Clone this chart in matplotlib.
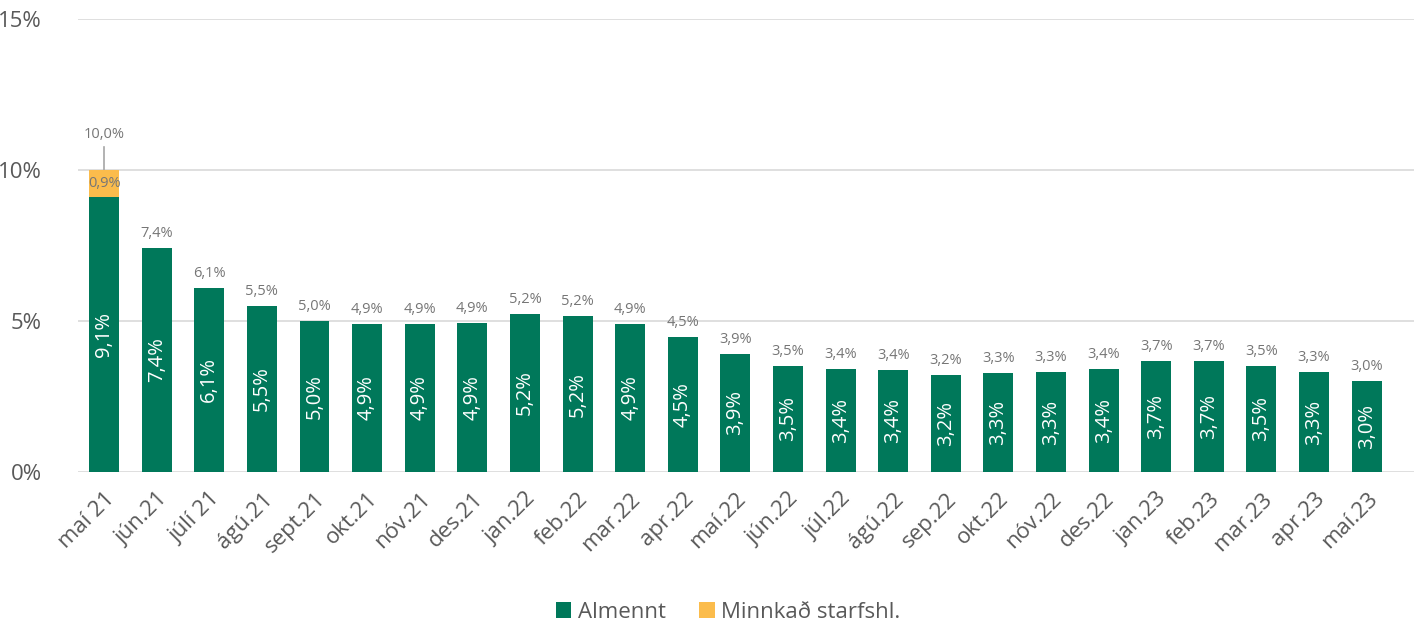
import numpy as np
import matplotlib.pyplot as plt

plt.rcParams['font.family'] = ['Open Sans', 'DejaVu Sans']

months = ["maí 21", "jún.21", "júlí 21", "ágú.21", "sept.21", "okt.21", "nóv.21",
          "des.21", "jan.22", "feb.22", "mar.22", "apr.22", "maí.22", "jún.22",
          "júl.22", "ágú.22", "sep.22", "okt.22", "nóv.22", "des.22", "jan.23",
          "feb.23", "mar.23", "apr.23", "maí.23"]
almennt = [9.1, 7.42, 6.09, 5.50, 5.0, 4.90, 4.90, 4.93, 5.23, 5.15, 4.90, 4.46,
           3.91, 3.52, 3.41, 3.39, 3.21, 3.28, 3.31, 3.41, 3.66, 3.66, 3.51, 3.31, 3.01]
minnkad = [0.9] + [0.0] * 24

green = "#00785A"
orange = "#FBBC4C"
gray = "#595959"

fig = plt.figure(figsize=(14.14, 6.21), dpi=100)
ax = fig.add_axes([0.055, 0.24, 0.945, 0.73])

x = np.arange(len(months))
a = np.array(almennt)
m = np.array(minnkad)
ax.bar(x, a, width=0.57, color=green, label="Almennt", zorder=3)
ax.bar(x, m, width=0.57, bottom=a, color=orange, label="Minnkað starfshl.", zorder=3)

tot = a + m
fmt = lambda v: f"{round(v + 1e-9, 1):.1f}%".replace(".", ",")
for i in x:
    ax.text(i, a[i] / 2, fmt(almennt[i]), rotation=90,
            ha="center", va="center", color="white", fontsize=14.5, zorder=4)
    if i == 0:
        ax.text(i, a[i] + m[i] / 2, fmt(minnkad[i]),
                ha="center", va="center", color="#767676", fontsize=10.5, zorder=4)
        ax.plot([i, i], [tot[i], tot[i] + 0.75], color="#A6A6A6", lw=1.2, zorder=2)
        ax.text(i, tot[i] + 1.15, fmt(tot[i]),
                ha="center", va="center", color="#767676", fontsize=10.5)
    else:
        ax.text(i, tot[i] + 0.48, fmt(tot[i]),
                ha="center", va="center", color="#767676", fontsize=10.5)

ax.set_ylim(0, 15)
ax.set_xlim(-0.5, len(months) - 0.1)
ax.set_yticks([0, 5, 10, 15])
ax.set_yticklabels(["0%", "5%", "10%", "15%"])
ax.set_xticks(x)
ax.set_xticklabels(months, rotation=45, ha="right", rotation_mode="anchor")
ax.tick_params(axis="both", length=0, labelsize=16, colors=gray)
ax.tick_params(axis="x", pad=12)
ax.tick_params(axis="y", pad=26)
ax.grid(axis="y", color="#D9D9D9", lw=1.2, zorder=0)
for s in ax.spines.values():
    s.set_visible(False)

fig.legend(loc="lower center", bbox_to_anchor=(0.515, -0.035), ncol=2, frameon=False,
           fontsize=16, labelcolor=gray, handlelength=0.7, handleheight=0.7,
           handletextpad=0.3, columnspacing=1.5)

fig.savefig("out.png", dpi=100)
